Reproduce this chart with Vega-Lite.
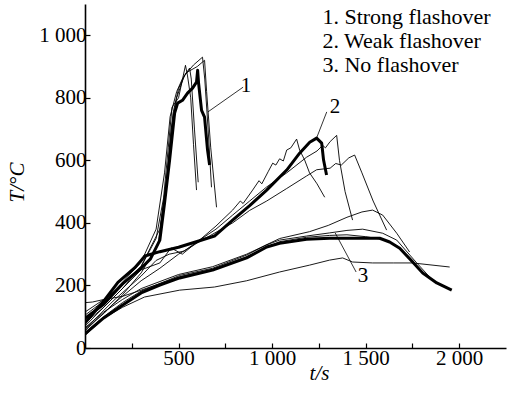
{
  "$schema": "https://vega.github.io/schema/vega-lite/v6.json",
  "width": 421,
  "height": 344,
  "autosize": {"type": "none"},
  "padding": {"left": 85, "top": 4, "right": 1, "bottom": 51},
  "config": {
    "view": {"stroke": null},
    "font": "Liberation Serif",
    "axis": {
      "grid": false,
      "domainColor": "#000000",
      "domainWidth": 1.6,
      "tickColor": "#000000",
      "tickWidth": 1.2,
      "tickSize": -5,
      "labelFont": "Liberation Serif",
      "labelFontSize": 21,
      "labelColor": "#000000",
      "labelOverlap": false,
      "titleFont": "Liberation Serif",
      "titleFontSize": 21,
      "titleFontWeight": "normal",
      "titleColor": "#000000"
    }
  },
  "datasets": {
    "curves": [
      {"c":"S0","k":"mean","t":0,"T":95},{"c":"S0","k":"mean","t":100,"T":140},{"c":"S0","k":"mean","t":200,"T":205},{"c":"S0","k":"mean","t":300,"T":255},{"c":"S0","k":"mean","t":350,"T":285},{"c":"S0","k":"mean","t":400,"T":345},{"c":"S0","k":"mean","t":425,"T":463},{"c":"S0","k":"mean","t":452,"T":600},{"c":"S0","k":"mean","t":479,"T":751},{"c":"S0","k":"mean","t":495,"T":783},{"c":"S0","k":"mean","t":521,"T":792},{"c":"S0","k":"mean","t":548,"T":815},{"c":"S0","k":"mean","t":575,"T":831},{"c":"S0","k":"mean","t":596,"T":850},{"c":"S0","k":"mean","t":602,"T":888},{"c":"S0","k":"mean","t":607,"T":847},{"c":"S0","k":"mean","t":623,"T":760},{"c":"S0","k":"mean","t":639,"T":738},{"c":"S0","k":"mean","t":655,"T":633},{"c":"S0","k":"mean","t":666,"T":585},
      {"c":"S1","k":"test","t":0,"T":80},{"c":"S1","k":"test","t":100,"T":130},{"c":"S1","k":"test","t":200,"T":190},{"c":"S1","k":"test","t":300,"T":260},{"c":"S1","k":"test","t":380,"T":350},{"c":"S1","k":"test","t":420,"T":480},{"c":"S1","k":"test","t":445,"T":640},{"c":"S1","k":"test","t":465,"T":770},{"c":"S1","k":"test","t":500,"T":800},{"c":"S1","k":"test","t":537,"T":904},{"c":"S1","k":"test","t":548,"T":870},{"c":"S1","k":"test","t":565,"T":800},{"c":"S1","k":"test","t":580,"T":650},{"c":"S1","k":"test","t":596,"T":505},
      {"c":"S2","k":"test","t":0,"T":105},{"c":"S2","k":"test","t":100,"T":150},{"c":"S2","k":"test","t":200,"T":210},{"c":"S2","k":"test","t":300,"T":275},{"c":"S2","k":"test","t":380,"T":380},{"c":"S2","k":"test","t":425,"T":560},{"c":"S2","k":"test","t":455,"T":740},{"c":"S2","k":"test","t":490,"T":820},{"c":"S2","k":"test","t":520,"T":860},{"c":"S2","k":"test","t":559,"T":895},{"c":"S2","k":"test","t":568,"T":860},{"c":"S2","k":"test","t":585,"T":700},{"c":"S2","k":"test","t":605,"T":530},
      {"c":"S3","k":"test","t":0,"T":60},{"c":"S3","k":"test","t":100,"T":110},{"c":"S3","k":"test","t":200,"T":170},{"c":"S3","k":"test","t":300,"T":240},{"c":"S3","k":"test","t":390,"T":330},{"c":"S3","k":"test","t":430,"T":500},{"c":"S3","k":"test","t":460,"T":700},{"c":"S3","k":"test","t":490,"T":800},{"c":"S3","k":"test","t":530,"T":870},{"c":"S3","k":"test","t":580,"T":905},{"c":"S3","k":"test","t":628,"T":930},{"c":"S3","k":"test","t":640,"T":860},{"c":"S3","k":"test","t":658,"T":700},{"c":"S3","k":"test","t":676,"T":514},
      {"c":"S4","k":"test","t":0,"T":115},{"c":"S4","k":"test","t":100,"T":155},{"c":"S4","k":"test","t":200,"T":200},{"c":"S4","k":"test","t":300,"T":262},{"c":"S4","k":"test","t":400,"T":380},{"c":"S4","k":"test","t":440,"T":560},{"c":"S4","k":"test","t":470,"T":750},{"c":"S4","k":"test","t":500,"T":830},{"c":"S4","k":"test","t":540,"T":880},{"c":"S4","k":"test","t":600,"T":900},{"c":"S4","k":"test","t":639,"T":920},{"c":"S4","k":"test","t":650,"T":820},{"c":"S4","k":"test","t":672,"T":640},{"c":"S4","k":"test","t":703,"T":450},
      {"c":"W0","k":"mean","t":0,"T":80},{"c":"W0","k":"mean","t":100,"T":150},{"c":"W0","k":"mean","t":176,"T":210},{"c":"W0","k":"mean","t":265,"T":256},{"c":"W0","k":"mean","t":300,"T":280},{"c":"W0","k":"mean","t":320,"T":294},{"c":"W0","k":"mean","t":400,"T":308},{"c":"W0","k":"mean","t":500,"T":322},{"c":"W0","k":"mean","t":612,"T":343},{"c":"W0","k":"mean","t":692,"T":358},{"c":"W0","k":"mean","t":789,"T":409},{"c":"W0","k":"mean","t":880,"T":455},{"c":"W0","k":"mean","t":971,"T":505},{"c":"W0","k":"mean","t":1078,"T":569},{"c":"W0","k":"mean","t":1147,"T":623},{"c":"W0","k":"mean","t":1201,"T":658},{"c":"W0","k":"mean","t":1238,"T":671},{"c":"W0","k":"mean","t":1265,"T":655},{"c":"W0","k":"mean","t":1275,"T":601},{"c":"W0","k":"mean","t":1291,"T":553},
      {"c":"W1","k":"test","t":0,"T":60},{"c":"W1","k":"test","t":150,"T":150},{"c":"W1","k":"test","t":300,"T":230},{"c":"W1","k":"test","t":380,"T":280},{"c":"W1","k":"test","t":450,"T":300},{"c":"W1","k":"test","t":530,"T":310},{"c":"W1","k":"test","t":612,"T":345},{"c":"W1","k":"test","t":700,"T":390},{"c":"W1","k":"test","t":789,"T":441},{"c":"W1","k":"test","t":830,"T":470},{"c":"W1","k":"test","t":845,"T":462},{"c":"W1","k":"test","t":896,"T":505},{"c":"W1","k":"test","t":930,"T":535},{"c":"W1","k":"test","t":945,"T":525},{"c":"W1","k":"test","t":980,"T":565},{"c":"W1","k":"test","t":1003,"T":591},{"c":"W1","k":"test","t":1020,"T":585},{"c":"W1","k":"test","t":1040,"T":605},{"c":"W1","k":"test","t":1060,"T":598},{"c":"W1","k":"test","t":1078,"T":633},{"c":"W1","k":"test","t":1100,"T":640},{"c":"W1","k":"test","t":1131,"T":668},{"c":"W1","k":"test","t":1147,"T":633},{"c":"W1","k":"test","t":1174,"T":601},{"c":"W1","k":"test","t":1200,"T":560},{"c":"W1","k":"test","t":1240,"T":525},{"c":"W1","k":"test","t":1281,"T":482},
      {"c":"W2","k":"test","t":0,"T":70},{"c":"W2","k":"test","t":150,"T":160},{"c":"W2","k":"test","t":300,"T":250},{"c":"W2","k":"test","t":400,"T":272},{"c":"W2","k":"test","t":460,"T":320},{"c":"W2","k":"test","t":520,"T":300},{"c":"W2","k":"test","t":612,"T":345},{"c":"W2","k":"test","t":700,"T":380},{"c":"W2","k":"test","t":789,"T":425},{"c":"W2","k":"test","t":880,"T":470},{"c":"W2","k":"test","t":971,"T":515},{"c":"W2","k":"test","t":1078,"T":560},{"c":"W2","k":"test","t":1184,"T":610},{"c":"W2","k":"test","t":1240,"T":630},{"c":"W2","k":"test","t":1270,"T":648},{"c":"W2","k":"test","t":1285,"T":640},{"c":"W2","k":"test","t":1310,"T":660},{"c":"W2","k":"test","t":1345,"T":680},{"c":"W2","k":"test","t":1360,"T":600},{"c":"W2","k":"test","t":1390,"T":500},{"c":"W2","k":"test","t":1430,"T":409},
      {"c":"W3","k":"test","t":0,"T":55},{"c":"W3","k":"test","t":150,"T":140},{"c":"W3","k":"test","t":300,"T":215},{"c":"W3","k":"test","t":400,"T":255},{"c":"W3","k":"test","t":500,"T":300},{"c":"W3","k":"test","t":612,"T":340},{"c":"W3","k":"test","t":700,"T":370},{"c":"W3","k":"test","t":789,"T":400},{"c":"W3","k":"test","t":880,"T":440},{"c":"W3","k":"test","t":971,"T":470},{"c":"W3","k":"test","t":1078,"T":510},{"c":"W3","k":"test","t":1184,"T":550},{"c":"W3","k":"test","t":1238,"T":570},{"c":"W3","k":"test","t":1310,"T":575},{"c":"W3","k":"test","t":1340,"T":590},{"c":"W3","k":"test","t":1370,"T":585},{"c":"W3","k":"test","t":1410,"T":608},{"c":"W3","k":"test","t":1441,"T":617},{"c":"W3","k":"test","t":1480,"T":560},{"c":"W3","k":"test","t":1540,"T":470},{"c":"W3","k":"test","t":1612,"T":377},
      {"c":"N0","k":"mean","t":0,"T":45},{"c":"N0","k":"mean","t":100,"T":96},{"c":"N0","k":"mean","t":200,"T":137},{"c":"N0","k":"mean","t":300,"T":176},{"c":"N0","k":"mean","t":400,"T":201},{"c":"N0","k":"mean","t":506,"T":224},{"c":"N0","k":"mean","t":682,"T":249},{"c":"N0","k":"mean","t":864,"T":288},{"c":"N0","k":"mean","t":971,"T":323},{"c":"N0","k":"mean","t":1040,"T":335},{"c":"N0","k":"mean","t":1184,"T":348},{"c":"N0","k":"mean","t":1307,"T":351},{"c":"N0","k":"mean","t":1484,"T":351},{"c":"N0","k":"mean","t":1575,"T":351},{"c":"N0","k":"mean","t":1628,"T":339},{"c":"N0","k":"mean","t":1682,"T":319},{"c":"N0","k":"mean","t":1751,"T":275},{"c":"N0","k":"mean","t":1805,"T":240},{"c":"N0","k":"mean","t":1880,"T":208},{"c":"N0","k":"mean","t":1960,"T":185},
      {"c":"N1","k":"test","t":0,"T":65},{"c":"N1","k":"test","t":100,"T":115},{"c":"N1","k":"test","t":200,"T":155},{"c":"N1","k":"test","t":300,"T":190},{"c":"N1","k":"test","t":500,"T":235},{"c":"N1","k":"test","t":682,"T":260},{"c":"N1","k":"test","t":864,"T":300},{"c":"N1","k":"test","t":1040,"T":350},{"c":"N1","k":"test","t":1200,"T":372},{"c":"N1","k":"test","t":1300,"T":392},{"c":"N1","k":"test","t":1400,"T":418},{"c":"N1","k":"test","t":1480,"T":435},{"c":"N1","k":"test","t":1537,"T":441},{"c":"N1","k":"test","t":1591,"T":425},{"c":"N1","k":"test","t":1666,"T":367},{"c":"N1","k":"test","t":1735,"T":307},
      {"c":"N2","k":"test","t":0,"T":50},{"c":"N2","k":"test","t":100,"T":100},{"c":"N2","k":"test","t":200,"T":145},{"c":"N2","k":"test","t":300,"T":182},{"c":"N2","k":"test","t":506,"T":232},{"c":"N2","k":"test","t":682,"T":255},{"c":"N2","k":"test","t":864,"T":297},{"c":"N2","k":"test","t":971,"T":330},{"c":"N2","k":"test","t":1040,"T":345},{"c":"N2","k":"test","t":1184,"T":358},{"c":"N2","k":"test","t":1307,"T":368},{"c":"N2","k":"test","t":1400,"T":376},{"c":"N2","k":"test","t":1484,"T":380},{"c":"N2","k":"test","t":1591,"T":367},{"c":"N2","k":"test","t":1666,"T":345},{"c":"N2","k":"test","t":1773,"T":272},{"c":"N2","k":"test","t":1842,"T":227},
      {"c":"N3","k":"test","t":0,"T":40},{"c":"N3","k":"test","t":100,"T":95},{"c":"N3","k":"test","t":200,"T":130},{"c":"N3","k":"test","t":318,"T":163},{"c":"N3","k":"test","t":506,"T":185},{"c":"N3","k":"test","t":692,"T":195},{"c":"N3","k":"test","t":864,"T":215},{"c":"N3","k":"test","t":1040,"T":243},{"c":"N3","k":"test","t":1200,"T":265},{"c":"N3","k":"test","t":1307,"T":281},{"c":"N3","k":"test","t":1377,"T":288},{"c":"N3","k":"test","t":1430,"T":275},{"c":"N3","k":"test","t":1537,"T":272},{"c":"N3","k":"test","t":1650,"T":272},{"c":"N3","k":"test","t":1751,"T":272},{"c":"N3","k":"test","t":1949,"T":259},
      {"c":"N4","k":"test","t":0,"T":145},{"c":"N4","k":"test","t":40,"T":147},{"c":"N4","k":"test","t":100,"T":155},{"c":"N4","k":"test","t":200,"T":165},{"c":"N4","k":"test","t":300,"T":185},{"c":"N4","k":"test","t":506,"T":228},{"c":"N4","k":"test","t":682,"T":252},{"c":"N4","k":"test","t":864,"T":292},{"c":"N4","k":"test","t":1040,"T":340},{"c":"N4","k":"test","t":1184,"T":354},{"c":"N4","k":"test","t":1307,"T":360},{"c":"N4","k":"test","t":1400,"T":362},{"c":"N4","k":"test","t":1500,"T":356},{"c":"N4","k":"test","t":1600,"T":346},{"c":"N4","k":"test","t":1680,"T":322},{"c":"N4","k":"test","t":1760,"T":275}
    ],
    "leaders": [
      {"t":845,"T":834,"t2":657,"T2":755},
      {"t":1292,"T":755,"t2":1238,"T2":672},
      {"t":1449,"T":243,"t2":1337,"T2":368}
    ],
    "labels": [
      {"role":"num","txt":"1","t":860,"T":819},
      {"role":"num","txt":"2","t":1336,"T":751},
      {"role":"num","txt":"3","t":1486,"T":211},
      {"role":"key","txt":"1. Strong flashover","t":1269,"T":1036},
      {"role":"key","txt":"2. Weak flashover","t":1269,"T":959},
      {"role":"key","txt":"3. No flashover","t":1269,"T":883}
    ]
  },
  "layer": [
    {
      "data": {"name": "curves"},
      "mark": {"type": "line", "color": "#000000", "strokeJoin": "round", "clip": true},
      "encoding": {
        "x": {
          "field": "t", "type": "quantitative",
          "scale": {"domain": [0, 2250], "nice": false},
          "axis": {
            "values": [250, 500, 750, 1000, 1250, 1500, 1750, 2000],
            "labelExpr": "datum.value % 500 == 0 ? replace(format(datum.value, ','), ',', ' ') : ''",
            "labelPadding": 4,
            "labelFlush": false,
            "title": "t/s",
            "titleFontStyle": "italic",
            "titleX": 234,
            "titleY": 31,
            "titleAlign": "center",
            "titleBaseline": "alphabetic"
          }
        },
        "y": {
          "field": "T", "type": "quantitative",
          "scale": {"domain": [0, 1100], "nice": false},
          "axis": {
            "values": [0, 100, 200, 300, 400, 500, 600, 700, 800, 900, 1000],
            "labelExpr": "datum.value % 200 == 0 ? replace(format(datum.value, ','), ',', ' ') : ''",
            "labelPadding": 4,
            "title": "T/°C",
            "titleFontStyle": "italic",
            "titleX": -62,
            "titleY": 178,
            "titleAngle": 270,
            "titleAlign": "center",
            "titleBaseline": "alphabetic"
          }
        },
        "detail": {"field": "c"},
        "strokeWidth": {
          "field": "k", "type": "nominal",
          "scale": {"domain": ["test", "mean"], "range": [0.9, 3]},
          "legend": null
        }
      }
    },
    {
      "data": {"name": "leaders"},
      "mark": {"type": "rule", "color": "#000000", "strokeWidth": 0.8},
      "encoding": {
        "x": {"field": "t", "type": "quantitative"},
        "y": {"field": "T", "type": "quantitative"},
        "x2": {"field": "t2"},
        "y2": {"field": "T2"}
      }
    },
    {
      "data": {"name": "labels"},
      "transform": [{"filter": "datum.role == 'num'"}],
      "mark": {"type": "text", "font": "Liberation Serif", "fontSize": 21, "color": "#000000", "align": "center", "baseline": "alphabetic"},
      "encoding": {
        "x": {"field": "t", "type": "quantitative"},
        "y": {"field": "T", "type": "quantitative"},
        "text": {"field": "txt"}
      }
    },
    {
      "data": {"name": "labels"},
      "transform": [{"filter": "datum.role == 'key'"}],
      "mark": {"type": "text", "font": "Liberation Serif", "fontSize": 22, "color": "#000000", "align": "left", "baseline": "alphabetic"},
      "encoding": {
        "x": {"field": "t", "type": "quantitative"},
        "y": {"field": "T", "type": "quantitative"},
        "text": {"field": "txt"}
      }
    }
  ]
}
